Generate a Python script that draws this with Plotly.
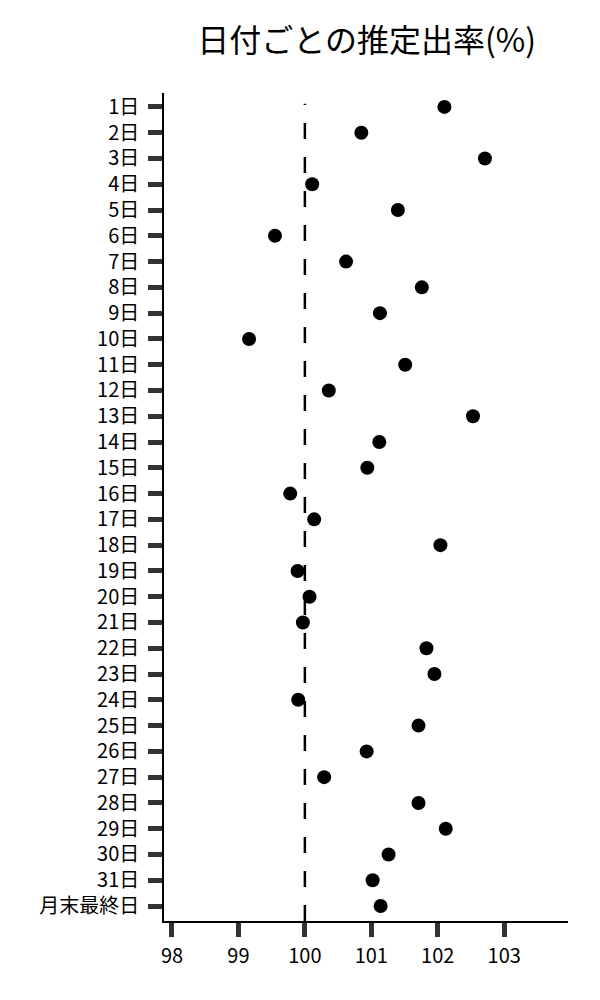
import plotly.graph_objects as go

days = [f"{i}日" for i in range(1, 32)] + ["月末最終日"]
rates = [102.10, 100.85, 102.71, 100.11, 101.40, 99.55, 100.62, 101.76, 101.13, 99.16,
         101.51, 100.36, 102.53, 101.12, 100.94, 99.78, 100.14, 102.04, 99.89, 100.07,
         99.97, 101.83, 101.95, 99.90, 101.71, 100.93, 100.29, 101.71, 102.12, 101.26,
         101.02, 101.14]
x_ticks = [98, 99, 100, 101, 102, 103]
baseline = 100

FONT = "Noto Sans CJK JP"

fig = go.Figure()
fig.add_trace(go.Scatter(
    x=rates, y=days, mode="markers",
    marker=dict(color="black", size=14),
    showlegend=False, hoverinfo="x+y",
))

fig.add_shape(type="line", xref="x", yref="paper",
              x0=baseline, x1=baseline, y0=0, y1=0.987,
              line=dict(color="black", width=2.5, dash="16px,18px"), layer="below")

fig.update_layout(
    width=600, height=1000,
    margin=dict(l=156, r=40, t=85, b=87),
    paper_bgcolor="white", plot_bgcolor="white",
    font=dict(family=FONT, color="black", size=20),
    title=dict(text="日付ごとの推定出率(%)", x=(366.7 - 8) / 600, xanchor="center",
               y=1 - 33 / 1000, yanchor="middle", font=dict(size=32, family=FONT)),
)
fig.update_xaxes(
    range=[97.88, 103.96], tickvals=x_ticks, ticktext=[str(v) for v in x_ticks],
    showgrid=False, zeroline=False,
    showline=True, linecolor="black", linewidth=1.5,
    ticks="outside", ticklen=14, tickwidth=5, tickcolor="#333333",
    ticklabelstandoff=2,
    tickfont=dict(size=20, family=FONT),
)
fig.update_yaxes(
    type="category", categoryorder="array", categoryarray=days,
    range=[31.58, -0.54],
    showgrid=False, zeroline=False,
    showline=True, linecolor="black", linewidth=1.5,
    ticks="outside", ticklen=14, tickwidth=5, tickcolor="#333333",
    ticklabelstandoff=5,
    tickfont=dict(size=20, family=FONT),
)

fig.write_html("out.html")
